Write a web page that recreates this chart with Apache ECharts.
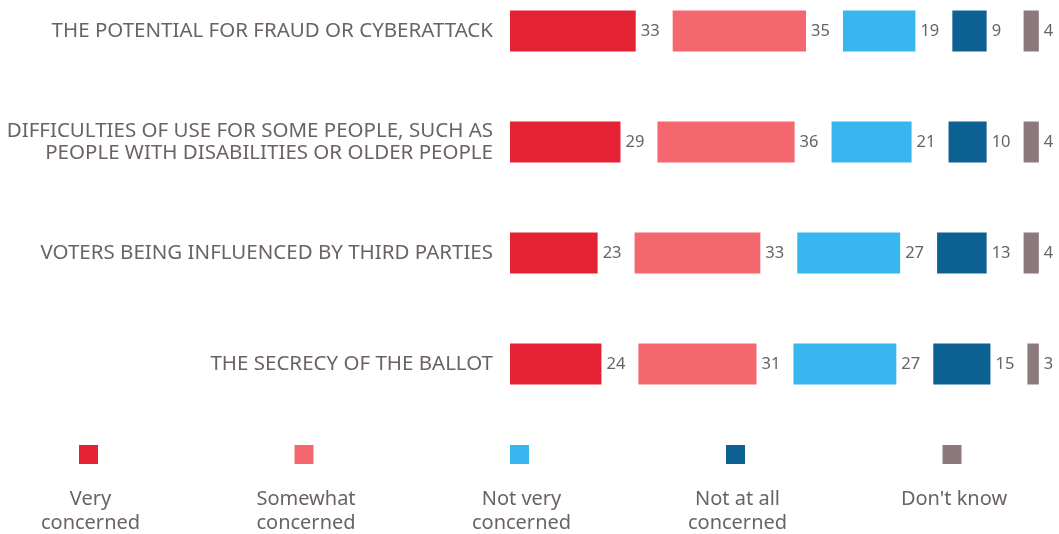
<!DOCTYPE html>
<html>
<head>
<meta charset="utf-8">
<script src="https://cdn.jsdelivr.net/npm/echarts@6/dist/echarts.min.js"></script>
<style>
  html, body { margin: 0; padding: 0; background: #ffffff; }
  #chart { width: 1059px; height: 534px; }
</style>
</head>
<body>
<div id="chart"></div>
<script>
// Concerns about online voting, % of respondents
const categories = [
  'THE POTENTIAL FOR FRAUD OR CYBERATTACK',
  'DIFFICULTIES OF USE FOR SOME PEOPLE, SUCH AS\nPEOPLE WITH DISABILITIES OR OLDER PEOPLE',
  'VOTERS BEING INFLUENCED BY THIRD PARTIES',
  'THE SECRECY OF THE BALLOT'
];
const seriesNames = ['Very concerned', 'Somewhat concerned', 'Not very concerned', 'Not at all concerned', "Don't know"];
const legendLabels = ['Very\nconcerned', 'Somewhat\nconcerned', 'Not very\nconcerned', 'Not at all\nconcerned', "Don't know"];
const veryConcerned = [33, 29, 23, 24];
const somewhatConcerned = [35, 36, 33, 31];
const notVeryConcerned = [19, 21, 27, 27];
const notAtAllConcerned = [9, 10, 13, 15];
const dontKnow = [4, 4, 4, 3];
const colors = ['#E52233', '#F5676F', '#38B6EF', '#0D6092', '#8B797C'];

const FONT = 'Noto Sans';
const TEXT = '#6b6264';
const GAP = 9.7; // blank space after each segment, in axis units

const values = [veryConcerned, somewhatConcerned, notVeryConcerned, notAtAllConcerned, dontKnow];

const series = [];
values.forEach((vals, i) => {
  series.push({
    name: seriesNames[i],
    type: 'bar',
    stack: 'total',
    barWidth: 41,
    clip: false,
    data: vals,
    itemStyle: { color: colors[i] },
    label: {
      show: true,
      position: 'right',
      distance: 5,
      color: TEXT,
      fontFamily: FONT,
      fontSize: 16.5
    }
  });
  if (i < values.length - 1) {
    series.push({
      name: 'gap' + i,
      type: 'bar',
      stack: 'total',
      barWidth: 41,
      clip: false,
      silent: true,
      data: vals.map(() => GAP),
      itemStyle: { color: 'transparent' },
      label: { show: false }
    });
  }
});

// Legend: square swatch with the caption centred beneath it
const legendX = [88.5, 304, 519.5, 735.5, 952];
const graphic = [];
seriesNames.forEach((name, i) => {
  graphic.push({
    type: 'rect',
    shape: { x: legendX[i] - 9.5, y: 445, width: 19, height: 19 },
    style: { fill: colors[i] }
  });
  graphic.push({
    type: 'text',
    x: legendX[i] + 2,
    y: 487,
    style: {
      text: legendLabels[i],
      fill: TEXT,
      fontFamily: FONT,
      fontSize: 20,
      lineHeight: 24,
      align: 'center',
      verticalAlign: 'top'
    }
  });
});

const chart = echarts.init(document.getElementById('chart'), null, { renderer: 'canvas' });
chart.setOption({
  animation: false,
  backgroundColor: '#ffffff',
  grid: {
    left: 510,
    right: 15.6,
    top: 31,
    bottom: 170,
    containLabel: false,
    outerBoundsMode: 'none'
  },
  xAxis: {
    type: 'value',
    min: 0,
    max: 140,
    show: false
  },
  yAxis: {
    type: 'category',
    data: categories,
    inverse: true,
    boundaryGap: false,
    axisLine: { show: false },
    axisTick: { show: false },
    splitLine: { show: false },
    axisLabel: {
      margin: 17,
      color: TEXT,
      fontFamily: FONT,
      fontSize: 20.5,
      lineHeight: 22,
      padding: [10, 0, 0, 0],
      align: 'right'
    }
  },
  graphic: graphic,
  series: series
});
</script>
</body>
</html>
